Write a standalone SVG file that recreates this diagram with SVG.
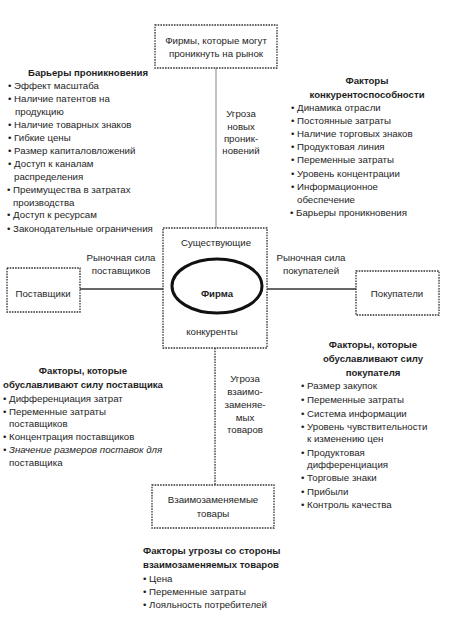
<svg xmlns="http://www.w3.org/2000/svg" width="468" height="631" viewBox="0 0 468 631">
<style>
text{font-family:"Liberation Sans","Noto Sans",sans-serif;font-size:9.7px;fill:#1e1e1e}
.b{font-weight:bold;font-size:9.6px}
.c{text-anchor:middle}
.i{font-style:italic}
.box{fill:none;stroke:#333;stroke-width:1.3;stroke-dasharray:1.6 1.1}
.ln{stroke:#333;stroke-width:1.6;fill:none}
.thin{stroke:#777;stroke-width:0.9;fill:none}
.dot{stroke:#333;stroke-width:1.3;stroke-dasharray:1.6 1.1;fill:none}
</style>
<rect width="468" height="631" fill="#fff"/>
<g id="connectors">
<line class="thin" x1="216" y1="68" x2="216" y2="228"/>
<line class="dot" x1="215" y1="348" x2="215" y2="485"/>
<line class="ln" x1="80" y1="289" x2="163" y2="289"/>
<line class="ln" x1="267" y1="289" x2="356" y2="289"/>
<g class="c">
<text x="241" y="116.5">Угроза</text>
<text x="241" y="129.5">новых</text>
<text x="241" y="141.5">проник-</text>
<text x="241" y="153.5">новений</text>
<text x="121" y="260.5">Рыночная сила</text>
<text x="121" y="273.5">поставщиков</text>
<text x="311" y="260.5">Рыночная сила</text>
<text x="311" y="273.5">покупателей</text>
<text x="245" y="381.5">Угроза</text>
<text x="245" y="394.5">взаимо-</text>
<text x="245" y="407.5">заменяе-</text>
<text x="245" y="420.5">мых</text>
<text x="245" y="432.5">товаров</text>
</g>
</g>
<g id="new-entrants">
<rect class="box" x="155" y="25" width="122" height="43"/>
<text class="c" x="216" y="43.5">Фирмы, которые могут</text>
<text class="c" x="216" y="56.5">проникнуть на рынок</text>
</g>
<g id="competitors">
<rect class="box" x="163" y="228" width="104" height="120"/>
<ellipse cx="217" cy="286" rx="45" ry="27" fill="none" stroke="#111" stroke-width="3"/>
<text class="c" x="216" y="245.5">Существующие</text>
<text class="c b" x="217" y="296.5">Фирма</text>
<text class="c" x="212" y="334.5">конкуренты</text>
</g>
<g id="suppliers">
<rect class="box" x="7" y="268" width="73" height="44"/>
<text class="c" x="43" y="296.5">Поставщики</text>
</g>
<g id="buyers">
<rect class="box" x="356" y="271" width="83" height="44"/>
<text class="c" x="397" y="296.5">Покупатели</text>
</g>
<g id="substitutes">
<rect class="box" x="152" y="485" width="122" height="43"/>
<text class="c" x="213" y="502.5">Взаимозаменяемые</text>
<text class="c" x="213" y="516.5">товары</text>
</g>
<g id="barriers">
<text class="b" x="28" y="75.5">Барьеры проникновения</text>
<text x="8" y="88.5">• Эффект масштаба</text>
<text x="8" y="101.5">• Наличие патентов на</text>
<text x="15" y="114.5">продукцию</text>
<text x="8" y="127.5">• Наличие товарных знаков</text>
<text x="8" y="140.5">• Гибкие цены</text>
<text x="8" y="153.5">• Размер капиталовложений</text>
<text x="8" y="166.5">• Доступ к каналам</text>
<text x="14" y="179.5">распределения</text>
<text x="7" y="192.5">• Преимущества в затратах</text>
<text x="13" y="205.5">производства</text>
<text x="7" y="217.5">• Доступ к ресурсам</text>
<text x="7" y="231.5">• Законодательные ограничения</text>
</g>
<g id="competitiveness">
<text class="b c" x="367" y="83.5">Факторы</text>
<text class="b c" x="367" y="97.5">конкурентоспособности</text>
<text x="291" y="110.5">• Динамика отрасли</text>
<text x="291" y="123.5">• Постоянные затраты</text>
<text x="291" y="136.5">• Наличие торговых знаков</text>
<text x="291" y="149.5">• Продуктовая линия</text>
<text x="291" y="162.5">• Переменные затраты</text>
<text x="291" y="176.5">• Уровень концентрации</text>
<text x="291" y="189.5">• Информационное</text>
<text x="297" y="202.5">обеспечение</text>
<text x="290" y="215.5">• Барьеры проникновения</text>
</g>
<g id="supplier-factors">
<text class="b c" x="83" y="373.5">Факторы, которые</text>
<text class="b c" x="83" y="387.5">обуславливают силу поставщика</text>
<text x="3" y="401.5">• Дифференциация затрат</text>
<text x="3" y="414.5">• Переменные затраты</text>
<text x="9" y="426.5">поставщиков</text>
<text x="3" y="439.5">• Концентрация поставщиков</text>
<text class="i" x="3" y="452.5">• Значение размеров поставок для</text>
<text x="9" y="465.5">поставщика</text>
</g>
<g id="buyer-factors">
<text class="b c" x="373" y="347.5">Факторы, которые</text>
<text class="b c" x="373" y="361.5">обуславливают силу</text>
<text class="b c" x="373" y="375.5">покупателя</text>
<text x="301" y="388.5">• Размер закупок</text>
<text x="301" y="402.5">• Переменные затраты</text>
<text x="301" y="416.5">• Система информации</text>
<text x="301" y="429.5">• Уровень чувствительности</text>
<text x="307" y="441.5">к изменению цен</text>
<text x="301" y="455.5">• Продуктовая</text>
<text x="307" y="467.5">дифференциация</text>
<text x="301" y="480.5">• Торговые знаки</text>
<text x="301" y="494.5">• Прибыли</text>
<text x="301" y="507.5">• Контроль качества</text>
</g>
<g id="substitute-factors">
<text class="b" x="143" y="553.5">Факторы угрозы со стороны</text>
<text class="b" x="143" y="567.5">взаимозаменяемых товаров</text>
<text x="143" y="581.5">• Цена</text>
<text x="143" y="594.5">• Переменные затраты</text>
<text x="143" y="607.5">• Лояльность потребителей</text>
</g>
</svg>
